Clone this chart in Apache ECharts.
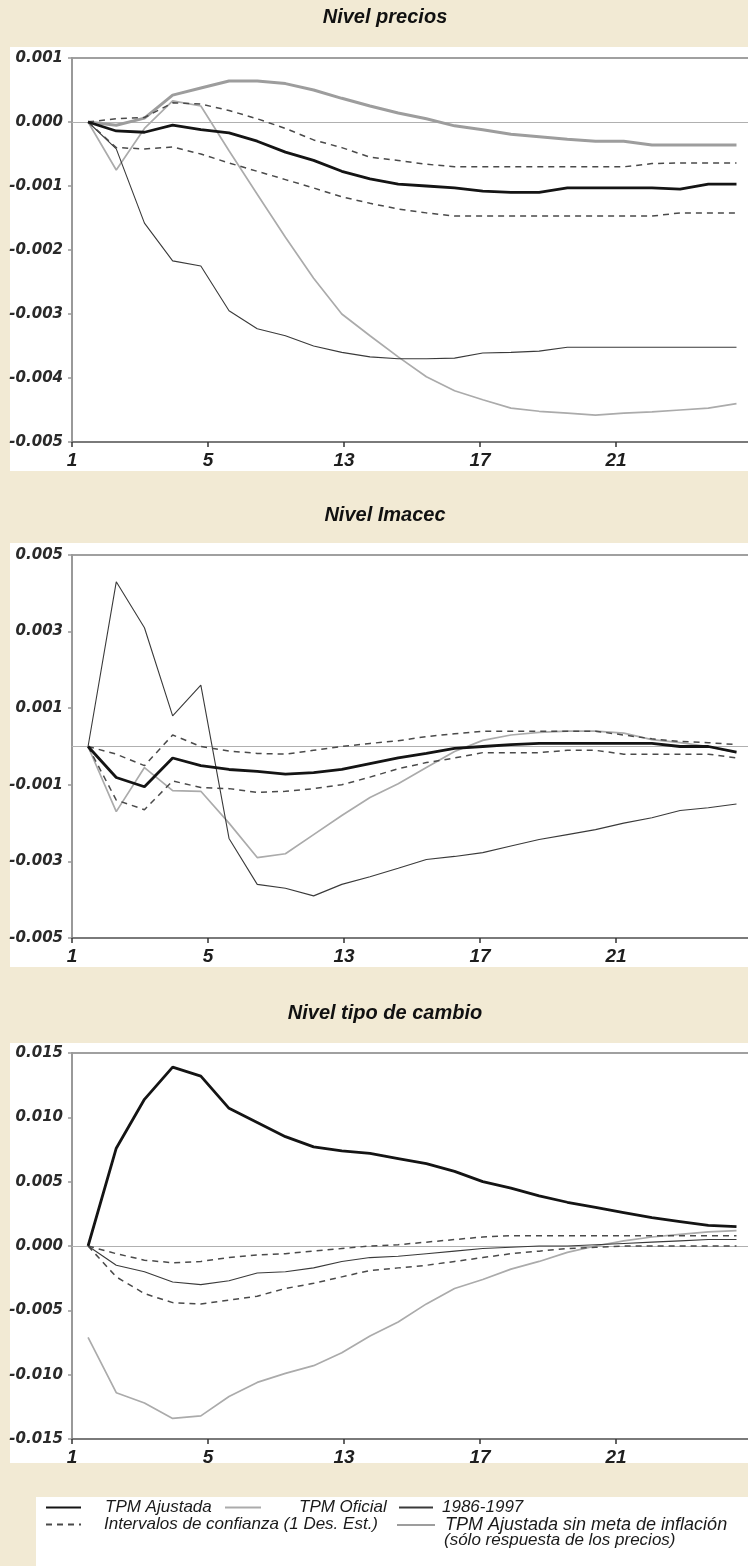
<!DOCTYPE html>
<html>
<head>
<meta charset="utf-8">
<script src="https://cdn.jsdelivr.net/npm/echarts@6/dist/echarts.min.js"></script>
<style>
  html, body { margin: 0; padding: 0; background: #f2ead4; overflow: hidden; }
  #chart { width: 780px; height: 1566px; }
</style>
</head>
<body>
<div id="chart"></div>
<script>
// periods (horizon of the impulse response)
const periods = [1, 2, 3, 4, 5, 6, 7, 8, 9, 10, 11, 12, 13, 14, 15, 16, 17, 18, 19, 20, 21, 22, 23, 24];
// labels printed under the x ticks (as in the original)
const xTickLabels = ['1', '5', '13', '17', '21', ''];

// Nivel precios
const preciosAjustada = [0, -0.00014, -0.00016, -0.00005, -0.00012, -0.00017, -0.0003, -0.00047, -0.0006, -0.00077, -0.00089, -0.00097, -0.001, -0.00103, -0.00108, -0.0011, -0.0011, -0.00103, -0.00103, -0.00103, -0.00103, -0.00105, -0.00097, -0.00097];
const preciosIcSup = [0, 0.00005, 0.00007, 0.0003, 0.00028, 0.00018, 0.00005, -0.0001, -0.00028, -0.0004, -0.00055, -0.0006, -0.00066, -0.0007, -0.0007, -0.0007, -0.0007, -0.0007, -0.0007, -0.0007, -0.00065, -0.00064, -0.00064, -0.00064];
const preciosIcInf = [0, -0.0004, -0.00042, -0.00039, -0.0005, -0.00064, -0.00077, -0.0009, -0.00103, -0.00117, -0.00127, -0.00136, -0.00142, -0.00147, -0.00147, -0.00147, -0.00147, -0.00147, -0.00147, -0.00147, -0.00147, -0.00142, -0.00142, -0.00142];
const preciosOficial = [0, -0.00075, -0.0001, 0.00033, 0.00025, -0.00045, -0.00113, -0.0018, -0.00244, -0.003, -0.00334, -0.00367, -0.00398, -0.0042, -0.00434, -0.00447, -0.00452, -0.00455, -0.00458, -0.00455, -0.00453, -0.0045, -0.00447, -0.0044];
const precios8697 = [0, -0.00042, -0.00158, -0.00217, -0.00225, -0.00295, -0.00323, -0.00334, -0.0035, -0.0036, -0.00367, -0.0037, -0.0037, -0.00369, -0.00361, -0.0036, -0.00358, -0.00352, -0.00352, -0.00352, -0.00352, -0.00352, -0.00352, -0.00352];
const preciosSinMeta = [0, -0.00005, 0.00006, 0.00042, 0.00053, 0.00064, 0.00064, 0.0006, 0.0005, 0.00037, 0.00025, 0.00014, 0.00005, -0.00006, -0.00012, -0.00019, -0.00023, -0.00027, -0.0003, -0.0003, -0.00036, -0.00036, -0.00036, -0.00036];

// Nivel Imacec
const imacecAjustada = [0, -0.00081, -0.00105, -0.0003, -0.0005, -0.0006, -0.00065, -0.00072, -0.00068, -0.0006, -0.00045, -0.0003, -0.00018, -0.00005, 0, 0.00005, 0.00008, 0.00008, 0.00008, 0.00008, 0.00008, 0, 0, -0.00015];
const imacecIcSup = [0, -0.0002, -0.0005, 0.0003, 0, -0.00012, -0.00018, -0.0002, -0.0001, 0, 0.00008, 0.00015, 0.00026, 0.00033, 0.0004, 0.0004, 0.0004, 0.0004, 0.0004, 0.0003, 0.0002, 0.00013, 0.0001, 0.00005];
const imacecIcInf = [0, -0.0014, -0.00165, -0.0009, -0.00107, -0.0011, -0.0012, -0.00117, -0.0011, -0.001, -0.0008, -0.00058, -0.00042, -0.0003, -0.00016, -0.00016, -0.00016, -0.0001, -0.0001, -0.0002, -0.0002, -0.0002, -0.0002, -0.0003];
const imacecOficial = [0, -0.0017, -0.00055, -0.00115, -0.00117, -0.002, -0.0029, -0.0028, -0.0023, -0.0018, -0.00133, -0.00097, -0.00055, -0.00013, 0.00016, 0.0003, 0.00037, 0.0004, 0.0004, 0.00035, 0.00018, 0.0001, 0, -0.00016];
const imacec8697 = [0, 0.0043, 0.0031, 0.0008, 0.0016, -0.0024, -0.0036, -0.0037, -0.0039, -0.0036, -0.0034, -0.00318, -0.00295, -0.00287, -0.00277, -0.0026, -0.00243, -0.0023, -0.00217, -0.002, -0.00186, -0.00167, -0.0016, -0.0015];

// Nivel tipo de cambio
const cambioAjustada = [0, 0.0076, 0.0114, 0.0139, 0.0132, 0.0107, 0.0096, 0.0085, 0.0077, 0.0074, 0.0072, 0.0068, 0.0064, 0.0058, 0.005, 0.0045, 0.0039, 0.0034, 0.003, 0.0026, 0.0022, 0.0019, 0.0016, 0.0015];
const cambioIcSup = [0, -0.0006, -0.0011, -0.0013, -0.0012, -0.0009, -0.0007, -0.0006, -0.0004, -0.0002, 0, 0.0001, 0.0003, 0.0005, 0.0007, 0.0008, 0.0008, 0.0008, 0.0008, 0.0008, 0.0008, 0.0008, 0.0008, 0.0008];
const cambioIcInf = [0, -0.0024, -0.0037, -0.0044, -0.0045, -0.0042, -0.0039, -0.0033, -0.0029, -0.0024, -0.0019, -0.0017, -0.0015, -0.0012, -0.0009, -0.0006, -0.0004, -0.0002, -0.0001, 0, 0, 0, 0, 0];
const cambioOficial = [-0.0071, -0.0114, -0.0122, -0.0134, -0.0132, -0.0117, -0.0106, -0.0099, -0.0093, -0.0083, -0.007, -0.0059, -0.0045, -0.0033, -0.0026, -0.0018, -0.0012, -0.0005, 0, 0.0004, 0.0007, 0.0009, 0.0011, 0.0012];
const cambio8697 = [0, -0.0015, -0.002, -0.0028, -0.003, -0.0027, -0.0021, -0.002, -0.0017, -0.0012, -0.0009, -0.0008, -0.0006, -0.0004, -0.0002, -0.0001, 0, 0, 0.0001, 0.0002, 0.0003, 0.0004, 0.0005, 0.0005];

const NAME_AJ = 'TPM Ajustada';
const NAME_OF = 'TPM Oficial';
const NAME_86 = '1986-1997';
const NAME_IC = 'Intervalos de confianza (1 Des. Est.)';
const NAME_SM = 'TPM Ajustada sin meta de inflación';

const styles = {};
styles[NAME_AJ] = { color: '#141414', width: 2.8, type: 'solid', z: 6 };
styles[NAME_OF] = { color: '#ababab', width: 1.7, type: 'solid', z: 3 };
styles[NAME_86] = { color: '#3a3a3a', width: 1.1, type: 'solid', z: 4 };
styles[NAME_IC] = { color: '#4a4a4a', width: 1.5, type: [6, 5], z: 5 };
styles[NAME_SM] = { color: '#9d9d9d', width: 3, type: 'solid', z: 2 };

const panels = [
  { title: 'Nivel precios', top: 58, height: 384, min: -0.005, max: 0.001, interval: 0.001, titleTop: 7,
    lines: [[NAME_SM, preciosSinMeta], [NAME_OF, preciosOficial], [NAME_86, precios8697],
            [NAME_IC, preciosIcSup], [NAME_IC, preciosIcInf], [NAME_AJ, preciosAjustada]] },
  { title: 'Nivel Imacec', top: 555, height: 383, min: -0.005, max: 0.005, interval: 0.002, titleTop: 505,
    lines: [[NAME_OF, imacecOficial], [NAME_86, imacec8697],
            [NAME_IC, imacecIcSup], [NAME_IC, imacecIcInf], [NAME_AJ, imacecAjustada]] },
  { title: 'Nivel tipo de cambio', top: 1053, height: 386, min: -0.015, max: 0.015, interval: 0.005, titleTop: 1003,
    lines: [[NAME_OF, cambioOficial], [NAME_86, cambio8697],
            [NAME_IC, cambioIcSup], [NAME_IC, cambioIcInf], [NAME_AJ, cambioAjustada]] }
];

const labelFont = "'DejaVu Sans', sans-serif";
const sansFont = "'Liberation Sans', Arial, sans-serif";

const grid = [], xAxis = [], yAxis = [], series = [], title = [];
panels.forEach((p, i) => {
  grid.push({ left: 72, top: p.top, width: 680, height: p.height, show: true,
              borderColor: '#a0a0a0', borderWidth: 2, backgroundColor: 'transparent' });
  title.push({ text: p.title, left: 385, top: p.titleTop, textAlign: 'center', padding: 0,
               textStyle: { fontFamily: sansFont, fontSize: 20, fontWeight: 'bold',
                            fontStyle: 'italic', color: '#111' } });
  // data axis; its line is the zero line
  xAxis.push({ type: 'value', gridIndex: i, min: 0.43, max: 24.55, position: 'bottom',
               axisLine: { show: true, onZero: true, lineStyle: { color: '#b0b0b0', width: 1 } },
               axisTick: { show: false }, axisLabel: { show: false }, splitLine: { show: false } });
  // tick axis carrying the printed labels
  xAxis.push({ type: 'value', gridIndex: i, min: 0, max: 5, interval: 1, position: 'bottom',
               axisLine: { show: true, onZero: false, lineStyle: { color: '#7a7a7a', width: 2 } },
               axisTick: { show: true, length: 5, lineStyle: { color: '#333', width: 1.5 } },
               axisLabel: { formatter: v => xTickLabels[v] || '', margin: 9, color: '#1e1e1e',
                            fontFamily: sansFont, fontSize: 19, fontWeight: 'bold', fontStyle: 'italic' },
               splitLine: { show: false } });
  yAxis.push({ type: 'value', gridIndex: i, min: p.min, max: p.max, interval: p.interval,
               axisLine: { show: true, lineStyle: { color: '#999', width: 2 } },
               axisTick: { show: true, length: 4, lineStyle: { color: '#999', width: 1.5 } },
               axisLabel: { margin: 9, color: '#2a2a2a', fontFamily: labelFont, fontSize: 15,
                            fontWeight: 'bold', fontStyle: 'italic',
                            formatter: v => (Math.abs(v) < 1e-9 ? 0 : v).toFixed(3) },
               splitLine: { show: false } });
  p.lines.forEach(([name, values]) => {
    const s = styles[name];
    series.push({
      name: name, type: 'line', xAxisIndex: i * 2, yAxisIndex: i,
      data: periods.map((t, k) => [t, values[k]]),
      symbol: 'none', z: s.z, animation: false,
      lineStyle: { color: s.color, width: s.width, type: s.type },
      itemStyle: { color: s.color }
    });
  });
});

// one legend block per entry, placed like the original key
function legendItem(name, left, top, iconWidth, textGap, fontSize) {
  return {
    data: [name], left: left, top: top, orient: 'horizontal', selectedMode: false,
    itemWidth: iconWidth, itemHeight: 12, itemGap: 0, padding: 0,
    itemStyle: { opacity: 0 },
    textStyle: { fontFamily: sansFont, fontSize: fontSize || 17, fontStyle: 'italic', color: '#1a1a1a',
                 padding: [0, 0, 0, textGap] }
  };
}
const legend = [
  legendItem(NAME_AJ, 45, 1499, 35, 19),
  legendItem(NAME_OF, 224, 1499, 36, 33),
  legendItem(NAME_86, 398, 1499, 34, 4),
  legendItem(NAME_IC, 45, 1516, 35, 18),
  legendItem(NAME_SM, 396, 1516, 38, 5, 18)
];

const graphic = [
  { type: 'rect', z: -10, shape: { x: 10, y: 47, width: 770, height: 424 }, style: { fill: '#fff' } },
  { type: 'rect', z: -10, shape: { x: 10, y: 543, width: 770, height: 424 }, style: { fill: '#fff' } },
  { type: 'rect', z: -10, shape: { x: 10, y: 1043, width: 770, height: 420 }, style: { fill: '#fff' } },
  { type: 'rect', z: -10, shape: { x: 36, y: 1497, width: 750, height: 69 }, style: { fill: '#fff' } },
  { type: 'text', left: 444, top: 1532, style: { text: '(sólo respuesta de los precios)',
      font: "italic 17px 'Liberation Sans', Arial, sans-serif", fill: '#1a1a1a' } }
];

const chart = echarts.init(document.getElementById('chart'), null, { renderer: 'canvas' });
chart.setOption({
  backgroundColor: 'transparent',
  animation: false,
  title: title,
  grid: grid,
  xAxis: xAxis,
  yAxis: yAxis,
  legend: legend,
  graphic: graphic,
  series: series
});
</script>
</body>
</html>
